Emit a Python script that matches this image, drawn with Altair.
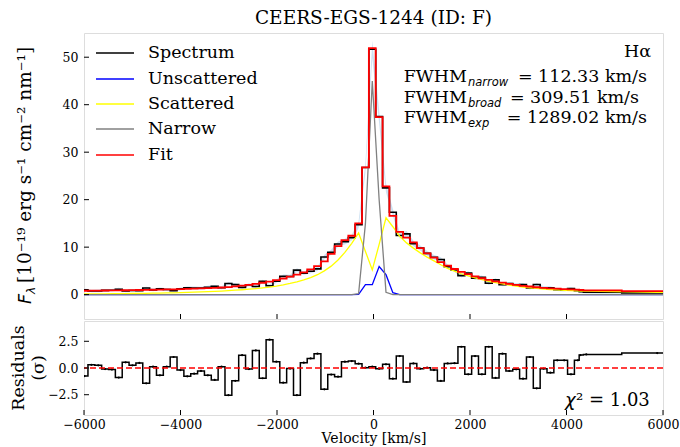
import altair as alt
import pandas as pd

# ---------------- data ----------------
velocity = [-6131, -5989, -5847, -5705, -5563, -5421, -5279, -5137, -4995, -4853,
            -4711, -4569, -4427, -4285, -4143, -4001, -3859, -3717, -3575, -3433,
            -3291, -3149, -3007, -2865, -2723, -2581, -2439, -2297, -2155, -2013,
            -1871, -1729, -1587, -1445, -1303, -1161, -1019, -877, -735, -593,
            -451, -309, -167, -25, 117, 259, 401, 543, 685, 827,
            969, 1111, 1253, 1395, 1537, 1679, 1821, 1963, 2105, 2247,
            2389, 2531, 2673, 2815, 2957, 3099, 3241, 3383, 3525, 3667,
            3809, 3951, 4093, 4235, 4290, 4410, 5880, 6200]

spectrum = [1.03, 1.03, 0.76, 0.79, 0.90, 0.92, 1.15, 0.77, 0.88, 0.85,
            1.39, 1.00, 1.25, 1.07, 0.84, 1.22, 1.43, 1.41, 1.39, 1.57,
            1.76, 1.46, 2.36, 2.11, 1.53, 2.08, 1.73, 2.81, 1.88, 2.85,
            3.88, 3.82, 5.16, 4.50, 4.93, 5.42, 7.92, 8.92, 10.65, 11.15,
            12.00, 14.72, 26.76, 51.68, 37.48, 22.48, 17.35, 12.47, 12.80, 10.75,
            9.83, 8.68, 7.89, 7.40, 5.90, 5.21, 4.00, 4.53, 3.45, 3.65,
            2.40, 3.12, 2.08, 2.36, 2.08, 2.15, 1.40, 2.13, 1.46, 1.46,
            1.04, 0.96, 1.27, 0.85, 0.64, 0.52, 0.37, 0.34]

error = [0.27, 0.27, 0.28, 0.28, 0.28, 0.28, 0.28, 0.28, 0.28, 0.28,
         0.28, 0.28, 0.28, 0.28, 0.28, 0.29, 0.29, 0.29, 0.29, 0.29,
         0.29, 0.30, 0.30, 0.30, 0.31, 0.31, 0.32, 0.33, 0.33, 0.34,
         0.35, 0.36, 0.38, 0.39, 0.41, 0.43, 0.46, 0.51, 0.56, 0.60,
         0.62, 0.70, 1.05, 1.80, 1.37, 0.93, 0.75, 0.65, 0.61, 0.58,
         0.54, 0.51, 0.48, 0.46, 0.44, 0.42, 0.40, 0.385, 0.37, 0.36,
         0.35, 0.34, 0.33, 0.32, 0.31, 0.31, 0.30, 0.30, 0.29, 0.29,
         0.29, 0.285, 0.28, 0.28, 0.28, 0.28, 0.27, 0.27]

fit = [0.82, 0.82, 0.84, 0.86, 0.87, 0.88, 0.90, 0.92, 0.95, 0.98,
       1.00, 1.03, 1.06, 1.10, 1.13, 1.17, 1.21, 1.26, 1.31, 1.37,
       1.43, 1.50, 1.60, 1.75, 1.90, 2.05, 2.25, 2.50, 2.75, 3.05,
       3.40, 3.80, 4.20, 4.70, 5.30, 6.00, 7.00, 8.60, 10.20, 11.50,
       12.40, 15.00, 26.80, 51.90, 37.40, 22.80, 16.60, 13.20, 12.00, 11.00,
       9.80, 8.70, 7.80, 6.85, 6.10, 5.40, 4.80, 4.30, 3.85, 3.45,
       3.10, 2.80, 2.52, 2.27, 2.05, 1.85, 1.71, 1.56, 1.44, 1.33,
       1.25, 1.17, 1.10, 1.05, 0.98, 0.88, 0.75, 0.72]

unscattered = [0, 0, 0, 0, 0, 0, 0, 0, 0, 0,
               0, 0, 0, 0, 0, 0, 0, 0, 0, 0,
               0, 0, 0, 0, 0, 0, 0, 0, 0, 0,
               0, 0, 0, 0, 0, 0, 0, 0, 0, 0,
               0, 0.05, 2.1, 2.1, 5.9, 4.2, 0.4, 0, 0, 0,
               0, 0, 0, 0, 0, 0, 0, 0, 0, 0,
               0, 0, 0, 0, 0, 0, 0, 0, 0, 0,
               0, 0, 0, 0, 0, 0, 0, 0]

scattered = [0.14, 0.15, 0.16, 0.17, 0.18, 0.19, 0.20, 0.22, 0.24, 0.26,
             0.28, 0.30, 0.33, 0.36, 0.39, 0.43, 0.47, 0.52, 0.57, 0.63,
             0.69, 0.76, 0.84, 0.93, 1.03, 1.15, 1.28, 1.43, 1.60, 1.80,
             2.05, 2.35, 2.70, 3.10, 3.60, 4.20, 5.00, 6.00, 7.30, 8.90,
             10.80, 13.00, 9.10, 5.20, 10.60, 16.20, 14.30, 12.30, 10.90, 9.80,
             8.80, 7.90, 7.10, 6.30, 5.55, 4.95, 4.40, 3.95, 3.52, 3.15,
             2.82, 2.53, 2.25, 2.00, 1.80, 1.61, 1.45, 1.30, 1.18, 1.08,
             0.99, 0.91, 0.84, 0.78, 0.76, 0.73, 0.50, 0.47]

narrow = [0, 0, 0, 0, 0, 0, 0, 0, 0, 0,
          0, 0, 0, 0, 0, 0, 0, 0, 0, 0,
          0, 0, 0, 0, 0, 0, 0, 0, 0, 0,
          0, 0, 0, 0, 0, 0, 0, 0, 0, 0,
          0, 0.2, 15.0, 45.0, 20.0, 0.5, 0, 0, 0, 0,
          0, 0, 0, 0, 0, 0, 0, 0, 0, 0,
          0, 0, 0, 0, 0, 0, 0, 0, 0, 0,
          0, 0, 0, 0, 0, 0, 0, 0]

residual = [-0.75, -0.75, 0.30, 0.25, -0.10, -0.15, -0.90, 0.53, 0.25, 0.47,
            -1.43, 0.12, -0.68, 0.12, 1.03, -0.19, -0.78, -0.53, -0.28, -0.68,
            -1.12, 0.12, -2.55, -1.20, 1.20, -0.10, 1.65, -0.96, 2.65, 0.59,
            -1.37, -0.05, -2.55, 0.50, 0.90, 1.34, -2.00, -0.62, -0.81, 0.59,
            0.65, 0.40, 0.03, 0.12, -0.06, 0.34, -1.00, 1.12, -1.31, 0.43,
            -0.06, 0.03, -0.19, -1.21, 0.43, 0.45, 1.99, -0.59, 1.12, -0.59,
            1.99, -0.93, 1.34, -0.28, -0.12, -1.00, 1.03, -1.90, -0.06, -0.44,
            0.72, 0.72, -0.59, 0.72, 1.21, 1.27, 1.40, 1.40]

series_names = ["Spectrum", "Unscattered", "Scattered", "Narrow", "Fit"]
series_colors = ["#000000", "#0000ff", "#ffff00", "#808080", "#ff0000"]

top_y_ticks = [0, 10, 20, 30, 40, 50]
inner_x_ticks = [-4000, -2000, 0, 2000, 4000]
bottom_x_ticks = [-6000, -4000, -2000, 0, 2000, 4000, 6000]
res_y_ticks = [-2.5, 0.0, 2.5]

title_text = "CEERS-EGS-1244 (ID: F)"
line_label = "H\u03b1"
fwhm_subs = ["narrow", "broad", "exp"]
fwhm_vals = [" = 112.33 km/s", " = 309.51 km/s", " = 1289.02 km/s"]
chi2_text = "1.03"
ytitle_rest = " [10\u207b\u00b9\u2079 erg s\u207b\u00b9 cm\u207b\u00b2 nm\u207b\u00b9]"

# ---------------- layout constants ----------------
W = 579
H_TOP = 286
H_RES = 94
XDOM = [-6000, 6000]
YDOM = [-5.13, 55.1]
RDOM = [-4.4, 4.4]
SERIF = "DejaVu Serif"
SANS = "DejaVu Sans"
FS_BIG = 17.5
FS_TICK = 12.5

df = pd.DataFrame({"v": velocity, "spec": spectrum, "err": error})
df["lo"] = df["spec"] - df["err"]
df["hi"] = df["spec"] + df["err"]

spec_df = pd.DataFrame({"v": velocity, "flux": spectrum, "series": "Spectrum"})
fit_df = pd.DataFrame({"v": velocity, "flux": fit, "series": "Fit"})
comp_df = pd.concat([
    pd.DataFrame({"v": velocity, "flux": unscattered, "series": "Unscattered"}),
    pd.DataFrame({"v": velocity, "flux": scattered, "series": "Scattered"}),
    pd.DataFrame({"v": velocity, "flux": narrow, "series": "Narrow"}),
], ignore_index=True)

xs = alt.Scale(domain=XDOM, nice=False, zero=False)
ys = alt.Scale(domain=YDOM, nice=False, zero=False)
rs = alt.Scale(domain=RDOM, nice=False, zero=False)

color = alt.Color("series:N", scale=alt.Scale(domain=series_names, range=series_colors), legend=None)

yaxis_top = alt.Axis(values=top_y_ticks, title=None, ticks=False, tickSize=0, labelPadding=6,
                     domain=False, grid=False, labelFont=SERIF, labelFontSize=FS_TICK)

base_x_none = alt.X("v:Q", scale=xs, axis=None)

band = alt.Chart(df).mark_area(color="#9ec3e6", opacity=0.5, clip=True).encode(
    x=base_x_none, y=alt.Y("lo:Q", scale=ys, axis=yaxis_top), y2="hi:Q")

spec_line = alt.Chart(spec_df).mark_line(interpolate="step", strokeWidth=1.6, clip=True).encode(
    x=base_x_none, y=alt.Y("flux:Q", scale=ys), color=color)

comp_lines = alt.Chart(comp_df).mark_line(strokeWidth=1.3, clip=True).encode(
    x=base_x_none, y=alt.Y("flux:Q", scale=ys), color=color,
    detail="series:N", order=alt.Order("v:Q"))

fit_line = alt.Chart(fit_df).mark_line(interpolate="step", strokeWidth=1.8, clip=True).encode(
    x=base_x_none, y=alt.Y("flux:Q", scale=ys), color=color)

# inward ticks for the top panel
top_xticks = alt.Chart(pd.DataFrame({"t": inner_x_ticks})).mark_rule(color="black", strokeWidth=1).encode(
    x=alt.X("t:Q", scale=xs, axis=None), y=alt.value(H_TOP), y2=alt.value(H_TOP - 5))
top_yticks = alt.Chart(pd.DataFrame({"t": top_y_ticks})).mark_rule(color="black", strokeWidth=1).encode(
    y=alt.Y("t:Q", scale=ys), x=alt.value(0), x2=alt.value(5))

ann_df = pd.DataFrame({"a": [0]})


def txt(s, x, y, font=SERIF, size=FS_BIG, align="left", baseline="alphabetic", style="normal", angle=0):
    return alt.Chart(ann_df).mark_text(font=font, fontSize=size, align=align, baseline=baseline,
                                       fontStyle=style, angle=angle, color="black").encode(
        x=alt.value(x), y=alt.value(y), text=alt.value(s))


# manual legend (line sample + label)
legend_layers = []
row_y = [20, 46, 71, 96, 122]
for i, name in enumerate(series_names):
    legend_layers.append(alt.Chart(ann_df).mark_rule(color=series_colors[i], strokeWidth=1.6).encode(
        x=alt.value(12), x2=alt.value(50), y=alt.value(row_y[i])))
    legend_layers.append(txt(name, 64, row_y[i], baseline="middle"))

# annotations
ann_layers = [txt(line_label, 567, 24, align="right")]
base_ys = [49, 70, 90]
val_right = [563, 555, 563]
for i in range(3):
    ann_layers.append(txt("FWHM", 383, base_ys[i], align="right"))
    ann_layers.append(txt(fwhm_subs[i], 384, base_ys[i] + 4, font=SANS, size=11.5, style="italic"))
    ann_layers.append(txt(fwhm_vals[i], val_right[i], base_ys[i], align="right"))

# y-axis title, built from pieces (rotated)
ytitle_layers = [
    txt("F", -53, 271, font=SANS, size=FS_BIG, style="italic", angle=270),
    txt("\u03bb", -49.5, 261, font=SANS, size=12.3, style="italic", angle=270),
    txt(ytitle_rest, -53, 250, size=18.5, angle=270),
]

top = alt.layer(band, spec_line, comp_lines, fit_line, top_xticks, top_yticks,
                *legend_layers, *ann_layers, *ytitle_layers).properties(
    width=W, height=H_TOP,
    title=alt.TitleParams(title_text, font=SERIF, fontSize=18.5, fontWeight="normal",
                          anchor="middle", frame="group", offset=6, color="black"),
)

# ---------------- residual panel ----------------
res_df = pd.DataFrame({"v": velocity, "res": residual})
res_line = alt.Chart(res_df).mark_line(
    interpolate="step", color="black", strokeWidth=1.5, clip=True,
).encode(
    x=alt.X("v:Q", scale=xs, axis=alt.Axis(values=bottom_x_ticks, format="d", title="Velocity [km/s]",
                                           ticks=False, tickSize=0, labelPadding=3, domain=False, grid=False,
                                           labelFont=SERIF, labelFontSize=FS_TICK, titleFont=SERIF,
                                           titleFontSize=14, titleFontWeight="normal", titlePadding=1,
                                           labelFlush=False)),
    y=alt.Y("res:Q", scale=rs, axis=alt.Axis(values=res_y_ticks, format=".1f", title=None,
                                             ticks=False, tickSize=0, labelPadding=6, domain=False, grid=False,
                                             labelFont=SERIF, labelFontSize=FS_TICK)),
)
res_pts = alt.Chart(res_df).mark_point(filled=True, color="black", size=5, opacity=1, clip=True).encode(
    x=alt.X("v:Q", scale=xs), y=alt.Y("res:Q", scale=rs))

zero_line = alt.Chart(pd.DataFrame({"z": [0.0]})).mark_rule(color="#ff0000", strokeDash=[6, 3], strokeWidth=1.4).encode(
    y=alt.Y("z:Q", scale=rs))

res_xticks = alt.Chart(pd.DataFrame({"t": bottom_x_ticks})).mark_rule(color="black", strokeWidth=1).encode(
    x=alt.X("t:Q", scale=xs), y=alt.value(H_RES), y2=alt.value(H_RES - 5))
res_yticks = alt.Chart(pd.DataFrame({"t": res_y_ticks})).mark_rule(color="black", strokeWidth=1).encode(
    y=alt.Y("t:Q", scale=rs), x=alt.value(0), x2=alt.value(5))

res_text = [
    txt("Residuals", -65.5, 47, align="center", baseline="middle", angle=270),
    txt("(\u03c3)", -45.5, 47, align="center", baseline="middle", angle=270),
    txt("\u03c7", 481, 85, font=SANS, size=18, style="italic"),
    txt("\u00b2 = " + chi2_text, 492, 85, size=18),
]

bottom = alt.layer(res_line, res_pts, zero_line, res_xticks, res_yticks, *res_text).properties(
    width=W, height=H_RES)

chart = alt.vconcat(top, bottom, spacing=0).properties(
    padding={"left": 9, "top": 8, "right": 0, "bottom": 0},
).configure_view(
    stroke="black", strokeWidth=1.1,
).configure(
    background="white",
)

chart.save("out.html", embed_options={"renderer": "svg", "actions": False})
